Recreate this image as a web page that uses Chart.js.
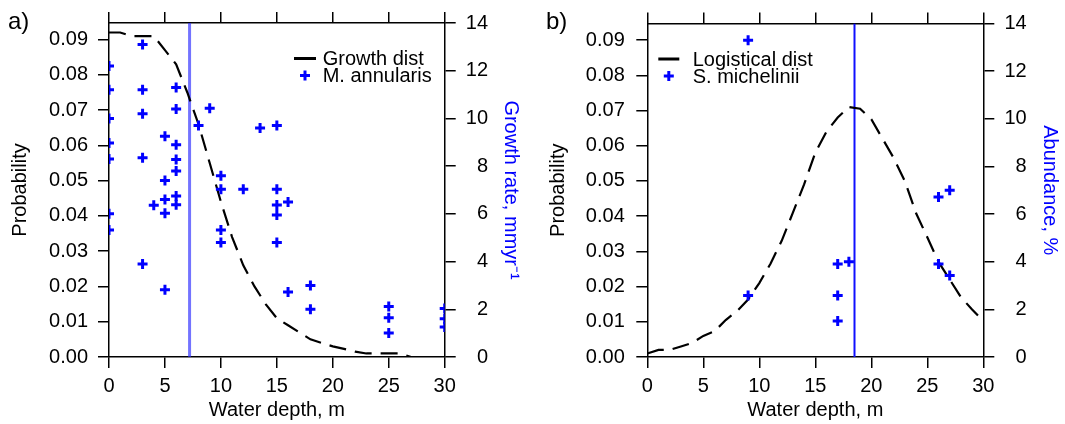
<!DOCTYPE html>
<html>
<head>
<meta charset="utf-8">
<script src="https://cdn.jsdelivr.net/npm/chart.js@4.4.0/dist/chart.umd.min.js"></script>
<style>
	body { margin: 0; background: #fff; }
	#wrap { position: relative; width: 1065px; height: 424px; }
	canvas { position: absolute; top: 0; }
	.tag { position: absolute; font: 24px "Liberation Sans", Arial, sans-serif; line-height: 24px; color: #000; }
</style>
</head>
<body>
<div id="wrap">
	<canvas id="chartA" width="532" height="424" style="left:0"></canvas>
	<canvas id="chartB" width="533" height="424" style="left:532px"></canvas>
	<div class="tag" style="left:8px; top:9px">a)</div>
	<div class="tag" style="left:546px; top:9px">b)</div>
</div>
<script>
// depth axis, shared by both panels
const depthMin = 0;
const depthMax = 30;
const probMax = 0.0947;

// a) growth distribution and M. annularis growth rates
const growthDepth = [0, 1, 2, 3, 4, 5, 6, 7, 8, 9, 10, 11, 12, 13, 14, 15, 16, 17, 18, 19, 20, 21, 22, 23, 24, 25, 26, 27, 28, 29, 30];
const growthDist = [0.092, 0.092, 0.091, 0.091, 0.091, 0.087, 0.083, 0.075, 0.066, 0.055, 0.044, 0.034, 0.026, 0.020, 0.015, 0.011, 0.009, 0.007, 0.005, 0.004, 0.003, 0.0023, 0.0015, 0.001, 0.001, 0.001, 0.001, 0, 0, 0, 0];
const annularisDepth = [0, 0, 0, 0, 0, 0, 0, 3, 3, 3, 3, 3, 4, 5, 5, 5, 5, 5, 6, 6, 6, 6, 6, 6, 6, 8, 9, 10, 10, 10, 10, 12, 13.5, 15, 15, 15, 15, 15, 16, 16, 18, 18, 25, 25, 25, 30, 30, 30];
const annularisRate = [12.2, 11.2, 10.0, 8.97, 8.3, 6.0, 5.32, 13.1, 11.2, 10.2, 8.35, 3.9, 6.36, 9.25, 7.4, 6.6, 6.03, 2.82, 11.3, 10.4, 8.9, 8.28, 7.8, 6.75, 6.38, 9.7, 10.43, 7.6, 7.03, 5.32, 4.8, 7.03, 9.6, 9.7, 7.03, 6.37, 5.95, 4.8, 6.5, 2.72, 3.0, 2.0, 2.12, 1.64, 1.01, 2.03, 1.6, 1.26];
const optimumA = 7.2;

// b) logistical distribution and S. michelinii abundance
const logisticDepth = [0, 1, 2, 3, 4, 5, 6, 7, 8, 9, 10, 11, 12, 13, 14, 15, 16, 17, 18, 19, 20, 21, 22, 23, 24, 25, 26, 27, 28, 29, 30];
const logisticDist = [0.001, 0.002, 0.002, 0.003, 0.004, 0.006, 0.0073, 0.0105, 0.013, 0.0163, 0.021, 0.0265, 0.033, 0.041, 0.049, 0.058, 0.064, 0.068, 0.071, 0.0705, 0.0675, 0.062, 0.0565, 0.0499, 0.0408, 0.034, 0.027, 0.022, 0.017, 0.0135, 0.0102];
const michelDepth = [9, 9, 17, 17, 17, 18, 26, 26, 27, 27];
const michelAbund = [13.3, 2.58, 3.9, 2.58, 1.51, 4.0, 3.9, 6.72, 3.42, 7.0];
const optimumB = 18.5;

const FONT = '"Liberation Sans", Arial, sans-serif';
Chart.defaults.font.family = FONT;
Chart.defaults.font.size = 20;
Chart.defaults.color = '#000';

const toPoints = (xs, ys) => xs.map((x, i) => ({ x: x, y: ys[i] }));

// small legend drawn inside the plot area
const insetLegend = {
	id: 'insetLegend',
	afterDatasetsDraw(chart, args, opts) {
		const { ctx, chartArea } = chart;
		ctx.save();
		ctx.font = '20px ' + FONT;
		ctx.textBaseline = 'alphabetic';
		ctx.textAlign = 'left';
		opts.entries.forEach((idx, row) => {
			const ds = chart.data.datasets[idx];
			const base = chartArea.top + opts.top + row * opts.rowGap;
			const x0 = chartArea.left + opts.left;
			const cy = base - 6.5;
			if (ds.showLine) {
				ctx.strokeStyle = ds.borderColor;
				ctx.lineWidth = 3;
				ctx.setLineDash([]);
				ctx.beginPath();
				ctx.moveTo(x0, cy);
				ctx.lineTo(x0 + opts.sampleWidth, cy);
				ctx.stroke();
			} else {
				ctx.strokeStyle = ds.pointBorderColor;
				ctx.lineWidth = ds.pointBorderWidth;
				Chart.helpers.drawPoint(ctx, { pointStyle: 'cross', radius: ds.pointRadius, borderWidth: ds.pointBorderWidth, rotation: 0 }, x0 + opts.sampleWidth / 2, cy);
			}
			ctx.fillStyle = '#000';
			ctx.fillText(ds.label, chartArea.left + opts.textLeft, base);
		});
		ctx.restore();
	}
};

function buildScales(p) {
	const axisLine = { color: '#000', width: 1.5 };
	const marks = { drawOnChartArea: false, drawTicks: true, tickLength: 11, color: '#000', lineWidth: 1.5 };
	return {
		x: {
			type: 'linear', position: 'bottom', min: depthMin, max: depthMax,
			border: axisLine, grid: marks,
			ticks: { stepSize: 5, padding: 6.5, maxRotation: 0 },
			title: { display: true, text: 'Water depth, m', padding: { top: 0, bottom: 2 } },
			afterFit: s => { s.height = 67; }
		},
		xTop: {
			type: 'linear', position: 'top', min: depthMin, max: depthMax,
			border: axisLine, grid: marks,
			ticks: { stepSize: 5, display: false },
			afterFit: s => { s.height = 21; }
		},
		y: {
			type: 'linear', position: 'left', min: 0, max: probMax,
			border: axisLine, grid: marks,
			ticks: { stepSize: 0.01, includeBounds: false, padding: p.leftPad, callback: v => v.toFixed(2) },
			title: { display: true, text: 'Probability', padding: { top: p.leftTitle } },
			afterFit: s => { s.width = p.leftWidth; }
		},
		y2: {
			type: 'linear', position: 'right', min: 0, max: 14,
			border: axisLine, grid: marks,
			ticks: { stepSize: 2, padding: 11, crossAlign: 'far' },
			title: { display: true, text: p.rightTitle, color: '#0000ff', padding: { top: -34.5 } },
			afterFit: s => { s.width = p.rightWidth; }
		}
	};
}

function scatterSet(label, xs, ys) {
	return {
		label: label,
		data: toPoints(xs, ys),
		yAxisID: 'y2',
		showLine: false,
		pointStyle: 'cross',
		pointRadius: 5,
		pointBorderWidth: 3,
		pointBorderColor: '#0000ff',
		pointBackgroundColor: '#0000ff'
	};
}

function curveSet(label, xs, ys) {
	return {
		label: label,
		data: toPoints(xs, ys),
		yAxisID: 'y',
		showLine: true,
		borderColor: '#000',
		borderWidth: 2.2,
		borderDash: [17, 9],
		pointRadius: 0,
		tension: 0
	};
}

function optimumSet(depth, color, width) {
	return {
		label: 'optimum',
		data: [{ x: depth, y: 0 }, { x: depth, y: 14 }],
		yAxisID: 'y2',
		showLine: true,
		borderColor: color,
		borderWidth: width,
		pointRadius: 0
	};
}

function drawPanel(id, datasets, scaleOpts, legendOpts, padRight) {
	return new Chart(document.getElementById(id), {
		type: 'scatter',
		data: { datasets: datasets },
		options: {
			responsive: false,
			animation: false,
			devicePixelRatio: 1,
			layout: { padding: { left: 0, top: 0, bottom: 0, right: padRight } },
			scales: buildScales(scaleOpts),
			plugins: {
				legend: { display: false },
				tooltip: { enabled: false },
				insetLegend: legendOpts
			}
		},
		plugins: [insetLegend]
	});
}

drawPanel('chartA',
	[
		scatterSet('M. annularis', annularisDepth, annularisRate),
		curveSet('Growth dist', growthDepth, growthDist),
		optimumSet(optimumA, 'rgba(40, 40, 255, 0.65)', 3)
	],
	{ leftWidth: 109, leftPad: 10, leftTitle: 8, rightWidth: 43.3, rightTitle: 'Growth rate, mmyr\u207B\u00B9' },
	{ entries: [1, 0], left: 185, sampleWidth: 22, textLeft: 213.7, top: 42, rowGap: 17 },
	44
);

drawPanel('chartB',
	[
		scatterSet('S. michelinii', michelDepth, michelAbund),
		curveSet('Logistical dist', logisticDepth, logisticDist),
		optimumSet(optimumB, '#1010ff', 2)
	],
	{ leftWidth: 115.3, leftPad: 11.5, leftTitle: 14, rightWidth: 43.4, rightTitle: 'Abundance, %' },
	{ entries: [1, 0], left: 11, sampleWidth: 21, textLeft: 45.4, top: 42, rowGap: 17 },
	38.3
);
</script>
</body>
</html>
